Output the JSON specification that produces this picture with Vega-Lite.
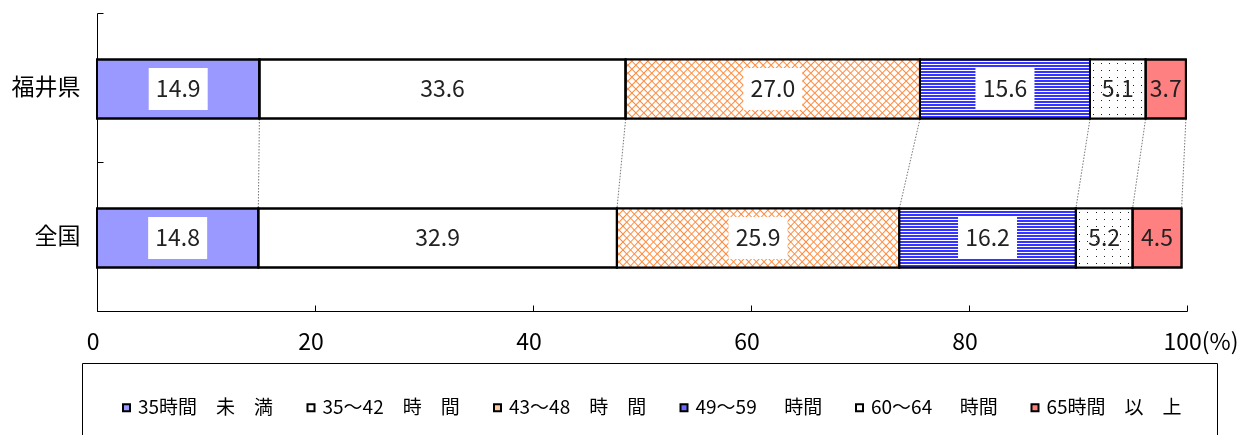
{
  "$schema": "https://vega.github.io/schema/vega-lite/v6.json",
  "width": 1090,
  "height": 298,
  "autosize": {"type": "none"},
  "padding": {"left": 97, "top": 13, "right": 58, "bottom": 124},
  "config": {
    "view": {"stroke": null},
    "font": "Noto Sans CJK JP",
    "text": {"font": "Noto Sans CJK JP"}
  },
  "data": {
    "values": [
      {"region": "福井県", "category": "35時間　未　満", "value": 14.9},
      {"region": "福井県", "category": "35～42　時　間", "value": 33.6},
      {"region": "福井県", "category": "43～48　時　間", "value": 27.0},
      {"region": "福井県", "category": "49～59 　 時間", "value": 15.6},
      {"region": "福井県", "category": "60～64 　 時間", "value": 5.1},
      {"region": "福井県", "category": "65時間　以　上", "value": 3.7},
      {"region": "全国", "category": "35時間　未　満", "value": 14.8},
      {"region": "全国", "category": "35～42　時　間", "value": 32.9},
      {"region": "全国", "category": "43～48　時　間", "value": 25.9},
      {"region": "全国", "category": "49～59 　 時間", "value": 16.2},
      {"region": "全国", "category": "60～64 　 時間", "value": 5.2},
      {"region": "全国", "category": "65時間　以　上", "value": 4.5}
    ]
  },
  "transform": [
    {"stack": "value", "groupby": ["region"], "sort": [{"field": "category", "order": "ascending"}], "as": ["s0", "s1"]}
  ],
  "encoding": {
    "y": {
      "field": "region",
      "type": "nominal",
      "sort": ["福井県", "全国"],
      "title": null,
      "scale": {"paddingInner": 0, "paddingOuter": 0},
      "axis": {
        "tickBand": "extent",
        "tickSize": -6,
        "tickColor": "#000",
        "domainColor": "#000",
        "labelFontSize": 23,
        "labelColor": "#000",
        "labelPadding": 23
      }
    }
  },
  "layer": [
    {
      "transform": [
        {"pivot": "region", "value": "s1", "groupby": ["category"]}
      ],
      "mark": {"type": "rule", "color": "#777", "strokeWidth": 1, "strokeDash": [1.5, 1.5]},
      "encoding": {
        "x": {"field": "福井県", "type": "quantitative", "title": null},
        "x2": {"field": "全国"},
        "y": {"datum": "福井県", "type": "nominal", "bandPosition": 0.7114},
        "y2": {"datum": "全国", "bandPosition": 0.3154}
      }
    },
    {
      "mark": {"type": "bar", "height": {"band": 0.396}, "yOffset": 1.5, "stroke": "#000", "strokeWidth": 2},
      "encoding": {
        "x": {
          "field": "s0",
          "type": "quantitative",
          "title": null,
          "scale": {"domain": [0, 100], "nice": false},
          "axis": {
            "values": [0, 20, 40, 60, 80, 100],
            "grid": false,
            "tickSize": -6,
            "tickColor": "#000",
            "domainColor": "#000",
            "labelFontSize": 23,
            "labelColor": "#000",
            "labelPadding": 26,
            "labelBaseline": "top",
            "labelFlush": false,
            "labelOverlap": false,
            "labelExpr": "datum.value === 100 ? '100(%)' : datum.label",
            "labelAlign": {"condition": {"test": "datum.value === 100", "value": "left"}, "value": "center"},
            "labelOffset": {"condition": {"test": "datum.value === 100", "value": -24}, "value": -4.5}
          }
        },
        "x2": {"field": "s1"},
        "color": {
          "field": "category",
          "type": "nominal",
          "scale": {
            "domain": ["35時間　未　満", "35～42　時　間", "43～48　時　間", "49～59 　 時間", "60～64 　 時間", "65時間　以　上"],
            "range": ["#9999ff", "#ffffff", "#ffc9a0", "#6b6bff", "#ffffff", "#ff8080"]
          },
          "legend": {
            "title": null,
            "orient": "none",
            "legendX": -15,
            "legendY": 350,
            "direction": "horizontal",
            "columns": 6,
            "padding": 35,
            "strokeColor": "#000",
            "fillColor": "#fff",
            "symbolType": "square",
            "symbolSize": 49,
            "symbolStrokeColor": "#000",
            "symbolStrokeWidth": 2,
            "symbolOpacity": 1,
            "labelFontSize": 19,
            "labelColor": "#000",
            "labelOffset": 2,
            "labelLimit": 400,
            "columnPadding": 27.5
          }
        }
      }
    },
    {
      "transform": [{"filter": {"field": "category", "equal": "43～48　時　間"}}],
      "mark": {
        "type": "bar", "height": {"band": 0.396}, "yOffset": 1.5, "strokeWidth": 0,
        "fill": {
          "gradient": "linear", "x1": 0, "y1": 0, "x2": 1.1542, "y2": 0.2316,
          "stops": [
            {"offset": 0, "color": "#ff8a3d"}, {"offset": 0.004, "color": "#fff"},
            {"offset": 0.0185, "color": "#fff"}, {"offset": 0.0225, "color": "#ff8a3d"}, {"offset": 0.0265, "color": "#fff"},
            {"offset": 0.041, "color": "#fff"}, {"offset": 0.045, "color": "#ff8a3d"}, {"offset": 0.049, "color": "#fff"},
            {"offset": 0.0635, "color": "#fff"}, {"offset": 0.0675, "color": "#ff8a3d"}, {"offset": 0.0715, "color": "#fff"},
            {"offset": 0.086, "color": "#fff"}, {"offset": 0.09, "color": "#ff8a3d"}, {"offset": 0.094, "color": "#fff"},
            {"offset": 0.1085, "color": "#fff"}, {"offset": 0.1125, "color": "#ff8a3d"}, {"offset": 0.1165, "color": "#fff"},
            {"offset": 0.131, "color": "#fff"}, {"offset": 0.135, "color": "#ff8a3d"}, {"offset": 0.139, "color": "#fff"},
            {"offset": 0.1535, "color": "#fff"}, {"offset": 0.1575, "color": "#ff8a3d"}, {"offset": 0.1615, "color": "#fff"},
            {"offset": 0.176, "color": "#fff"}, {"offset": 0.18, "color": "#ff8a3d"}, {"offset": 0.184, "color": "#fff"},
            {"offset": 0.1985, "color": "#fff"}, {"offset": 0.2025, "color": "#ff8a3d"}, {"offset": 0.2065, "color": "#fff"},
            {"offset": 0.221, "color": "#fff"}, {"offset": 0.225, "color": "#ff8a3d"}, {"offset": 0.229, "color": "#fff"},
            {"offset": 0.2435, "color": "#fff"}, {"offset": 0.2475, "color": "#ff8a3d"}, {"offset": 0.2515, "color": "#fff"},
            {"offset": 0.266, "color": "#fff"}, {"offset": 0.27, "color": "#ff8a3d"}, {"offset": 0.274, "color": "#fff"},
            {"offset": 0.2885, "color": "#fff"}, {"offset": 0.2925, "color": "#ff8a3d"}, {"offset": 0.2965, "color": "#fff"},
            {"offset": 0.311, "color": "#fff"}, {"offset": 0.315, "color": "#ff8a3d"}, {"offset": 0.319, "color": "#fff"},
            {"offset": 0.3335, "color": "#fff"}, {"offset": 0.3375, "color": "#ff8a3d"}, {"offset": 0.3415, "color": "#fff"},
            {"offset": 0.356, "color": "#fff"}, {"offset": 0.36, "color": "#ff8a3d"}, {"offset": 0.364, "color": "#fff"},
            {"offset": 0.3785, "color": "#fff"}, {"offset": 0.3825, "color": "#ff8a3d"}, {"offset": 0.3865, "color": "#fff"},
            {"offset": 0.401, "color": "#fff"}, {"offset": 0.405, "color": "#ff8a3d"}, {"offset": 0.409, "color": "#fff"},
            {"offset": 0.4235, "color": "#fff"}, {"offset": 0.4275, "color": "#ff8a3d"}, {"offset": 0.4315, "color": "#fff"},
            {"offset": 0.446, "color": "#fff"}, {"offset": 0.45, "color": "#ff8a3d"}, {"offset": 0.454, "color": "#fff"},
            {"offset": 0.4685, "color": "#fff"}, {"offset": 0.4725, "color": "#ff8a3d"}, {"offset": 0.4765, "color": "#fff"},
            {"offset": 0.491, "color": "#fff"}, {"offset": 0.495, "color": "#ff8a3d"}, {"offset": 0.499, "color": "#fff"},
            {"offset": 0.5135, "color": "#fff"}, {"offset": 0.5175, "color": "#ff8a3d"}, {"offset": 0.5215, "color": "#fff"},
            {"offset": 0.536, "color": "#fff"}, {"offset": 0.54, "color": "#ff8a3d"}, {"offset": 0.544, "color": "#fff"},
            {"offset": 0.5585, "color": "#fff"}, {"offset": 0.5625, "color": "#ff8a3d"}, {"offset": 0.5665, "color": "#fff"},
            {"offset": 0.581, "color": "#fff"}, {"offset": 0.585, "color": "#ff8a3d"}, {"offset": 0.589, "color": "#fff"},
            {"offset": 0.6035, "color": "#fff"}, {"offset": 0.6075, "color": "#ff8a3d"}, {"offset": 0.6115, "color": "#fff"},
            {"offset": 0.626, "color": "#fff"}, {"offset": 0.63, "color": "#ff8a3d"}, {"offset": 0.634, "color": "#fff"},
            {"offset": 0.6485, "color": "#fff"}, {"offset": 0.6525, "color": "#ff8a3d"}, {"offset": 0.6565, "color": "#fff"},
            {"offset": 0.671, "color": "#fff"}, {"offset": 0.675, "color": "#ff8a3d"}, {"offset": 0.679, "color": "#fff"},
            {"offset": 0.6935, "color": "#fff"}, {"offset": 0.6975, "color": "#ff8a3d"}, {"offset": 0.7015, "color": "#fff"},
            {"offset": 0.716, "color": "#fff"}, {"offset": 0.72, "color": "#ff8a3d"}, {"offset": 0.724, "color": "#fff"},
            {"offset": 0.7385, "color": "#fff"}, {"offset": 0.7425, "color": "#ff8a3d"}, {"offset": 0.7465, "color": "#fff"},
            {"offset": 0.761, "color": "#fff"}, {"offset": 0.765, "color": "#ff8a3d"}, {"offset": 0.769, "color": "#fff"},
            {"offset": 0.7835, "color": "#fff"}, {"offset": 0.7875, "color": "#ff8a3d"}, {"offset": 0.7915, "color": "#fff"},
            {"offset": 0.806, "color": "#fff"}, {"offset": 0.81, "color": "#ff8a3d"}, {"offset": 0.814, "color": "#fff"},
            {"offset": 0.8285, "color": "#fff"}, {"offset": 0.8325, "color": "#ff8a3d"}, {"offset": 0.8365, "color": "#fff"},
            {"offset": 0.851, "color": "#fff"}, {"offset": 0.855, "color": "#ff8a3d"}, {"offset": 0.859, "color": "#fff"},
            {"offset": 0.8735, "color": "#fff"}, {"offset": 0.8775, "color": "#ff8a3d"}, {"offset": 0.8815, "color": "#fff"},
            {"offset": 0.896, "color": "#fff"}, {"offset": 0.9, "color": "#ff8a3d"}, {"offset": 0.904, "color": "#fff"},
            {"offset": 0.9185, "color": "#fff"}, {"offset": 0.9225, "color": "#ff8a3d"}, {"offset": 0.9265, "color": "#fff"},
            {"offset": 0.941, "color": "#fff"}, {"offset": 0.945, "color": "#ff8a3d"}, {"offset": 0.949, "color": "#fff"},
            {"offset": 0.9635, "color": "#fff"}, {"offset": 0.9675, "color": "#ff8a3d"}, {"offset": 0.9715, "color": "#fff"},
            {"offset": 0.986, "color": "#fff"}, {"offset": 0.99, "color": "#ff8a3d"}, {"offset": 0.994, "color": "#fff"},
            {"offset": 1, "color": "#fff"}
          ]
        }
      },
      "encoding": {
        "x": {"field": "s0", "type": "quantitative", "title": null},
        "x2": {"field": "s1"}
      }
    },
    {
      "transform": [{"filter": {"field": "category", "equal": "43～48　時　間"}}],
      "mark": {
        "type": "bar", "height": {"band": 0.396}, "yOffset": 1.5, "strokeWidth": 0,
        "fill": {
          "gradient": "linear", "x1": 0, "y1": 1, "x2": 1.1542, "y2": 0.7684,
          "stops": [
            {"offset": 0, "color": "#ff8a3d"}, {"offset": 0.004, "color": "rgba(255,138,61,0)"},
            {"offset": 0.0185, "color": "rgba(255,138,61,0)"}, {"offset": 0.0225, "color": "#ff8a3d"}, {"offset": 0.0265, "color": "rgba(255,138,61,0)"},
            {"offset": 0.041, "color": "rgba(255,138,61,0)"}, {"offset": 0.045, "color": "#ff8a3d"}, {"offset": 0.049, "color": "rgba(255,138,61,0)"},
            {"offset": 0.0635, "color": "rgba(255,138,61,0)"}, {"offset": 0.0675, "color": "#ff8a3d"}, {"offset": 0.0715, "color": "rgba(255,138,61,0)"},
            {"offset": 0.086, "color": "rgba(255,138,61,0)"}, {"offset": 0.09, "color": "#ff8a3d"}, {"offset": 0.094, "color": "rgba(255,138,61,0)"},
            {"offset": 0.1085, "color": "rgba(255,138,61,0)"}, {"offset": 0.1125, "color": "#ff8a3d"}, {"offset": 0.1165, "color": "rgba(255,138,61,0)"},
            {"offset": 0.131, "color": "rgba(255,138,61,0)"}, {"offset": 0.135, "color": "#ff8a3d"}, {"offset": 0.139, "color": "rgba(255,138,61,0)"},
            {"offset": 0.1535, "color": "rgba(255,138,61,0)"}, {"offset": 0.1575, "color": "#ff8a3d"}, {"offset": 0.1615, "color": "rgba(255,138,61,0)"},
            {"offset": 0.176, "color": "rgba(255,138,61,0)"}, {"offset": 0.18, "color": "#ff8a3d"}, {"offset": 0.184, "color": "rgba(255,138,61,0)"},
            {"offset": 0.1985, "color": "rgba(255,138,61,0)"}, {"offset": 0.2025, "color": "#ff8a3d"}, {"offset": 0.2065, "color": "rgba(255,138,61,0)"},
            {"offset": 0.221, "color": "rgba(255,138,61,0)"}, {"offset": 0.225, "color": "#ff8a3d"}, {"offset": 0.229, "color": "rgba(255,138,61,0)"},
            {"offset": 0.2435, "color": "rgba(255,138,61,0)"}, {"offset": 0.2475, "color": "#ff8a3d"}, {"offset": 0.2515, "color": "rgba(255,138,61,0)"},
            {"offset": 0.266, "color": "rgba(255,138,61,0)"}, {"offset": 0.27, "color": "#ff8a3d"}, {"offset": 0.274, "color": "rgba(255,138,61,0)"},
            {"offset": 0.2885, "color": "rgba(255,138,61,0)"}, {"offset": 0.2925, "color": "#ff8a3d"}, {"offset": 0.2965, "color": "rgba(255,138,61,0)"},
            {"offset": 0.311, "color": "rgba(255,138,61,0)"}, {"offset": 0.315, "color": "#ff8a3d"}, {"offset": 0.319, "color": "rgba(255,138,61,0)"},
            {"offset": 0.3335, "color": "rgba(255,138,61,0)"}, {"offset": 0.3375, "color": "#ff8a3d"}, {"offset": 0.3415, "color": "rgba(255,138,61,0)"},
            {"offset": 0.356, "color": "rgba(255,138,61,0)"}, {"offset": 0.36, "color": "#ff8a3d"}, {"offset": 0.364, "color": "rgba(255,138,61,0)"},
            {"offset": 0.3785, "color": "rgba(255,138,61,0)"}, {"offset": 0.3825, "color": "#ff8a3d"}, {"offset": 0.3865, "color": "rgba(255,138,61,0)"},
            {"offset": 0.401, "color": "rgba(255,138,61,0)"}, {"offset": 0.405, "color": "#ff8a3d"}, {"offset": 0.409, "color": "rgba(255,138,61,0)"},
            {"offset": 0.4235, "color": "rgba(255,138,61,0)"}, {"offset": 0.4275, "color": "#ff8a3d"}, {"offset": 0.4315, "color": "rgba(255,138,61,0)"},
            {"offset": 0.446, "color": "rgba(255,138,61,0)"}, {"offset": 0.45, "color": "#ff8a3d"}, {"offset": 0.454, "color": "rgba(255,138,61,0)"},
            {"offset": 0.4685, "color": "rgba(255,138,61,0)"}, {"offset": 0.4725, "color": "#ff8a3d"}, {"offset": 0.4765, "color": "rgba(255,138,61,0)"},
            {"offset": 0.491, "color": "rgba(255,138,61,0)"}, {"offset": 0.495, "color": "#ff8a3d"}, {"offset": 0.499, "color": "rgba(255,138,61,0)"},
            {"offset": 0.5135, "color": "rgba(255,138,61,0)"}, {"offset": 0.5175, "color": "#ff8a3d"}, {"offset": 0.5215, "color": "rgba(255,138,61,0)"},
            {"offset": 0.536, "color": "rgba(255,138,61,0)"}, {"offset": 0.54, "color": "#ff8a3d"}, {"offset": 0.544, "color": "rgba(255,138,61,0)"},
            {"offset": 0.5585, "color": "rgba(255,138,61,0)"}, {"offset": 0.5625, "color": "#ff8a3d"}, {"offset": 0.5665, "color": "rgba(255,138,61,0)"},
            {"offset": 0.581, "color": "rgba(255,138,61,0)"}, {"offset": 0.585, "color": "#ff8a3d"}, {"offset": 0.589, "color": "rgba(255,138,61,0)"},
            {"offset": 0.6035, "color": "rgba(255,138,61,0)"}, {"offset": 0.6075, "color": "#ff8a3d"}, {"offset": 0.6115, "color": "rgba(255,138,61,0)"},
            {"offset": 0.626, "color": "rgba(255,138,61,0)"}, {"offset": 0.63, "color": "#ff8a3d"}, {"offset": 0.634, "color": "rgba(255,138,61,0)"},
            {"offset": 0.6485, "color": "rgba(255,138,61,0)"}, {"offset": 0.6525, "color": "#ff8a3d"}, {"offset": 0.6565, "color": "rgba(255,138,61,0)"},
            {"offset": 0.671, "color": "rgba(255,138,61,0)"}, {"offset": 0.675, "color": "#ff8a3d"}, {"offset": 0.679, "color": "rgba(255,138,61,0)"},
            {"offset": 0.6935, "color": "rgba(255,138,61,0)"}, {"offset": 0.6975, "color": "#ff8a3d"}, {"offset": 0.7015, "color": "rgba(255,138,61,0)"},
            {"offset": 0.716, "color": "rgba(255,138,61,0)"}, {"offset": 0.72, "color": "#ff8a3d"}, {"offset": 0.724, "color": "rgba(255,138,61,0)"},
            {"offset": 0.7385, "color": "rgba(255,138,61,0)"}, {"offset": 0.7425, "color": "#ff8a3d"}, {"offset": 0.7465, "color": "rgba(255,138,61,0)"},
            {"offset": 0.761, "color": "rgba(255,138,61,0)"}, {"offset": 0.765, "color": "#ff8a3d"}, {"offset": 0.769, "color": "rgba(255,138,61,0)"},
            {"offset": 0.7835, "color": "rgba(255,138,61,0)"}, {"offset": 0.7875, "color": "#ff8a3d"}, {"offset": 0.7915, "color": "rgba(255,138,61,0)"},
            {"offset": 0.806, "color": "rgba(255,138,61,0)"}, {"offset": 0.81, "color": "#ff8a3d"}, {"offset": 0.814, "color": "rgba(255,138,61,0)"},
            {"offset": 0.8285, "color": "rgba(255,138,61,0)"}, {"offset": 0.8325, "color": "#ff8a3d"}, {"offset": 0.8365, "color": "rgba(255,138,61,0)"},
            {"offset": 0.851, "color": "rgba(255,138,61,0)"}, {"offset": 0.855, "color": "#ff8a3d"}, {"offset": 0.859, "color": "rgba(255,138,61,0)"},
            {"offset": 0.8735, "color": "rgba(255,138,61,0)"}, {"offset": 0.8775, "color": "#ff8a3d"}, {"offset": 0.8815, "color": "rgba(255,138,61,0)"},
            {"offset": 0.896, "color": "rgba(255,138,61,0)"}, {"offset": 0.9, "color": "#ff8a3d"}, {"offset": 0.904, "color": "rgba(255,138,61,0)"},
            {"offset": 0.9185, "color": "rgba(255,138,61,0)"}, {"offset": 0.9225, "color": "#ff8a3d"}, {"offset": 0.9265, "color": "rgba(255,138,61,0)"},
            {"offset": 0.941, "color": "rgba(255,138,61,0)"}, {"offset": 0.945, "color": "#ff8a3d"}, {"offset": 0.949, "color": "rgba(255,138,61,0)"},
            {"offset": 0.9635, "color": "rgba(255,138,61,0)"}, {"offset": 0.9675, "color": "#ff8a3d"}, {"offset": 0.9715, "color": "rgba(255,138,61,0)"},
            {"offset": 0.986, "color": "rgba(255,138,61,0)"}, {"offset": 0.99, "color": "#ff8a3d"}, {"offset": 0.994, "color": "rgba(255,138,61,0)"},
            {"offset": 1, "color": "rgba(255,138,61,0)"}
          ]
        }
      },
      "encoding": {
        "x": {"field": "s0", "type": "quantitative", "title": null},
        "x2": {"field": "s1"}
      }
    },
    {
      "transform": [{"filter": {"field": "category", "equal": "49～59 　 時間"}}],
      "mark": {
        "type": "bar", "height": {"band": 0.396}, "yOffset": 1.5, "strokeWidth": 0,
        "fill": {
          "gradient": "linear", "x1": 0, "y1": 0, "x2": 0, "y2": 1,
          "stops": [
            {"offset": 0, "color": "#3535ff"}, {"offset": 0.0333, "color": "#3535ff"}, {"offset": 0.0333, "color": "#fff"}, {"offset": 0.05, "color": "#fff"},
            {"offset": 0.05, "color": "#3535ff"}, {"offset": 0.0833, "color": "#3535ff"}, {"offset": 0.0833, "color": "#fff"}, {"offset": 0.1, "color": "#fff"},
            {"offset": 0.1, "color": "#3535ff"}, {"offset": 0.1333, "color": "#3535ff"}, {"offset": 0.1333, "color": "#fff"}, {"offset": 0.15, "color": "#fff"},
            {"offset": 0.15, "color": "#3535ff"}, {"offset": 0.1833, "color": "#3535ff"}, {"offset": 0.1833, "color": "#fff"}, {"offset": 0.2, "color": "#fff"},
            {"offset": 0.2, "color": "#3535ff"}, {"offset": 0.2333, "color": "#3535ff"}, {"offset": 0.2333, "color": "#fff"}, {"offset": 0.25, "color": "#fff"},
            {"offset": 0.25, "color": "#3535ff"}, {"offset": 0.2833, "color": "#3535ff"}, {"offset": 0.2833, "color": "#fff"}, {"offset": 0.3, "color": "#fff"},
            {"offset": 0.3, "color": "#3535ff"}, {"offset": 0.3333, "color": "#3535ff"}, {"offset": 0.3333, "color": "#fff"}, {"offset": 0.35, "color": "#fff"},
            {"offset": 0.35, "color": "#3535ff"}, {"offset": 0.3833, "color": "#3535ff"}, {"offset": 0.3833, "color": "#fff"}, {"offset": 0.4, "color": "#fff"},
            {"offset": 0.4, "color": "#3535ff"}, {"offset": 0.4333, "color": "#3535ff"}, {"offset": 0.4333, "color": "#fff"}, {"offset": 0.45, "color": "#fff"},
            {"offset": 0.45, "color": "#3535ff"}, {"offset": 0.4833, "color": "#3535ff"}, {"offset": 0.4833, "color": "#fff"}, {"offset": 0.5, "color": "#fff"},
            {"offset": 0.5, "color": "#3535ff"}, {"offset": 0.5333, "color": "#3535ff"}, {"offset": 0.5333, "color": "#fff"}, {"offset": 0.55, "color": "#fff"},
            {"offset": 0.55, "color": "#3535ff"}, {"offset": 0.5833, "color": "#3535ff"}, {"offset": 0.5833, "color": "#fff"}, {"offset": 0.6, "color": "#fff"},
            {"offset": 0.6, "color": "#3535ff"}, {"offset": 0.6333, "color": "#3535ff"}, {"offset": 0.6333, "color": "#fff"}, {"offset": 0.65, "color": "#fff"},
            {"offset": 0.65, "color": "#3535ff"}, {"offset": 0.6833, "color": "#3535ff"}, {"offset": 0.6833, "color": "#fff"}, {"offset": 0.7, "color": "#fff"},
            {"offset": 0.7, "color": "#3535ff"}, {"offset": 0.7333, "color": "#3535ff"}, {"offset": 0.7333, "color": "#fff"}, {"offset": 0.75, "color": "#fff"},
            {"offset": 0.75, "color": "#3535ff"}, {"offset": 0.7833, "color": "#3535ff"}, {"offset": 0.7833, "color": "#fff"}, {"offset": 0.8, "color": "#fff"},
            {"offset": 0.8, "color": "#3535ff"}, {"offset": 0.8333, "color": "#3535ff"}, {"offset": 0.8333, "color": "#fff"}, {"offset": 0.85, "color": "#fff"},
            {"offset": 0.85, "color": "#3535ff"}, {"offset": 0.8833, "color": "#3535ff"}, {"offset": 0.8833, "color": "#fff"}, {"offset": 0.9, "color": "#fff"},
            {"offset": 0.9, "color": "#3535ff"}, {"offset": 0.9333, "color": "#3535ff"}, {"offset": 0.9333, "color": "#fff"}, {"offset": 0.95, "color": "#fff"},
            {"offset": 0.95, "color": "#3535ff"}, {"offset": 0.9833, "color": "#3535ff"}, {"offset": 0.9833, "color": "#fff"}, {"offset": 1, "color": "#fff"}
          ]
        }
      },
      "encoding": {
        "x": {"field": "s0", "type": "quantitative", "title": null},
        "x2": {"field": "s1"}
      }
    },
    {
      "transform": [{"filter": {"field": "category", "equal": "60～64 　 時間"}}],
      "mark": {
        "type": "bar", "height": {"band": 0.396}, "yOffset": 1.5, "strokeWidth": 0,
        "fill": {
          "gradient": "linear", "x1": 0, "y1": 0, "x2": 0, "y2": 1,
          "stops": [
            {"offset": 0, "color": "#fff"}, {"offset": 0.054, "color": "#fff"}, {"offset": 0.054, "color": "#222"}, {"offset": 0.071, "color": "#222"}, {"offset": 0.071, "color": "#fff"},
            {"offset": 0.179, "color": "#fff"}, {"offset": 0.179, "color": "#222"}, {"offset": 0.196, "color": "#222"}, {"offset": 0.196, "color": "#fff"},
            {"offset": 0.304, "color": "#fff"}, {"offset": 0.304, "color": "#222"}, {"offset": 0.321, "color": "#222"}, {"offset": 0.321, "color": "#fff"},
            {"offset": 0.429, "color": "#fff"}, {"offset": 0.429, "color": "#222"}, {"offset": 0.446, "color": "#222"}, {"offset": 0.446, "color": "#fff"},
            {"offset": 0.554, "color": "#fff"}, {"offset": 0.554, "color": "#222"}, {"offset": 0.571, "color": "#222"}, {"offset": 0.571, "color": "#fff"},
            {"offset": 0.679, "color": "#fff"}, {"offset": 0.679, "color": "#222"}, {"offset": 0.696, "color": "#222"}, {"offset": 0.696, "color": "#fff"},
            {"offset": 0.804, "color": "#fff"}, {"offset": 0.804, "color": "#222"}, {"offset": 0.821, "color": "#222"}, {"offset": 0.821, "color": "#fff"},
            {"offset": 0.929, "color": "#fff"}, {"offset": 0.929, "color": "#222"}, {"offset": 0.946, "color": "#222"}, {"offset": 0.946, "color": "#fff"},
            {"offset": 1, "color": "#fff"}
          ]
        }
      },
      "encoding": {
        "x": {"field": "s0", "type": "quantitative", "title": null},
        "x2": {"field": "s1"}
      }
    },
    {
      "transform": [{"filter": {"field": "category", "equal": "60～64 　 時間"}}],
      "mark": {
        "type": "bar", "height": {"band": 0.396}, "yOffset": 1.5, "strokeWidth": 0, "blend": "lighten",
        "fill": {
          "gradient": "linear", "x1": 0, "y1": 0, "x2": 1, "y2": 0,
          "stops": [
            {"offset": 0, "color": "#fff"}, {"offset": 0.062, "color": "#fff"}, {"offset": 0.062, "color": "#222"}, {"offset": 0.08, "color": "#222"}, {"offset": 0.08, "color": "#fff"},
            {"offset": 0.205, "color": "#fff"}, {"offset": 0.205, "color": "#222"}, {"offset": 0.223, "color": "#222"}, {"offset": 0.223, "color": "#fff"},
            {"offset": 0.348, "color": "#fff"}, {"offset": 0.348, "color": "#222"}, {"offset": 0.366, "color": "#222"}, {"offset": 0.366, "color": "#fff"},
            {"offset": 0.491, "color": "#fff"}, {"offset": 0.491, "color": "#222"}, {"offset": 0.509, "color": "#222"}, {"offset": 0.509, "color": "#fff"},
            {"offset": 0.634, "color": "#fff"}, {"offset": 0.634, "color": "#222"}, {"offset": 0.652, "color": "#222"}, {"offset": 0.652, "color": "#fff"},
            {"offset": 0.777, "color": "#fff"}, {"offset": 0.777, "color": "#222"}, {"offset": 0.795, "color": "#222"}, {"offset": 0.795, "color": "#fff"},
            {"offset": 0.92, "color": "#fff"}, {"offset": 0.92, "color": "#222"}, {"offset": 0.938, "color": "#222"}, {"offset": 0.938, "color": "#fff"},
            {"offset": 1, "color": "#fff"}
          ]
        }
      },
      "encoding": {
        "x": {"field": "s0", "type": "quantitative", "title": null},
        "x2": {"field": "s1"}
      }
    },
    {
      "mark": {"type": "bar", "height": {"band": 0.396}, "yOffset": 1.5, "fillOpacity": 0, "fill": "#fff", "stroke": "#000", "strokeWidth": 2},
      "encoding": {
        "x": {"field": "s0", "type": "quantitative", "title": null},
        "x2": {"field": "s1"}
      }
    },
    {
      "mark": {"type": "point", "shape": "M-1,-0.712H1V0.712H-1Z", "size": 3481, "filled": true, "fill": "#fff", "strokeWidth": 0, "yOffset": 1.5},
      "encoding": {
        "x": {"field": "value", "type": "quantitative", "stack": "zero", "bandPosition": 0.5, "title": null},
        "order": {"field": "category", "type": "ordinal", "sort": "ascending"},
        "opacity": {"condition": {"test": "datum.value >= 10", "value": 1}, "value": 0}
      }
    },
    {
      "mark": {"type": "text", "fontSize": 23, "color": "#222", "baseline": "middle", "align": "center", "yOffset": 2},
      "encoding": {
        "x": {"field": "value", "type": "quantitative", "stack": "zero", "bandPosition": 0.5, "title": null},
        "order": {"field": "category", "type": "ordinal", "sort": "ascending"},
        "text": {"field": "value", "type": "quantitative", "format": ".1f"}
      }
    }
  ]
}
